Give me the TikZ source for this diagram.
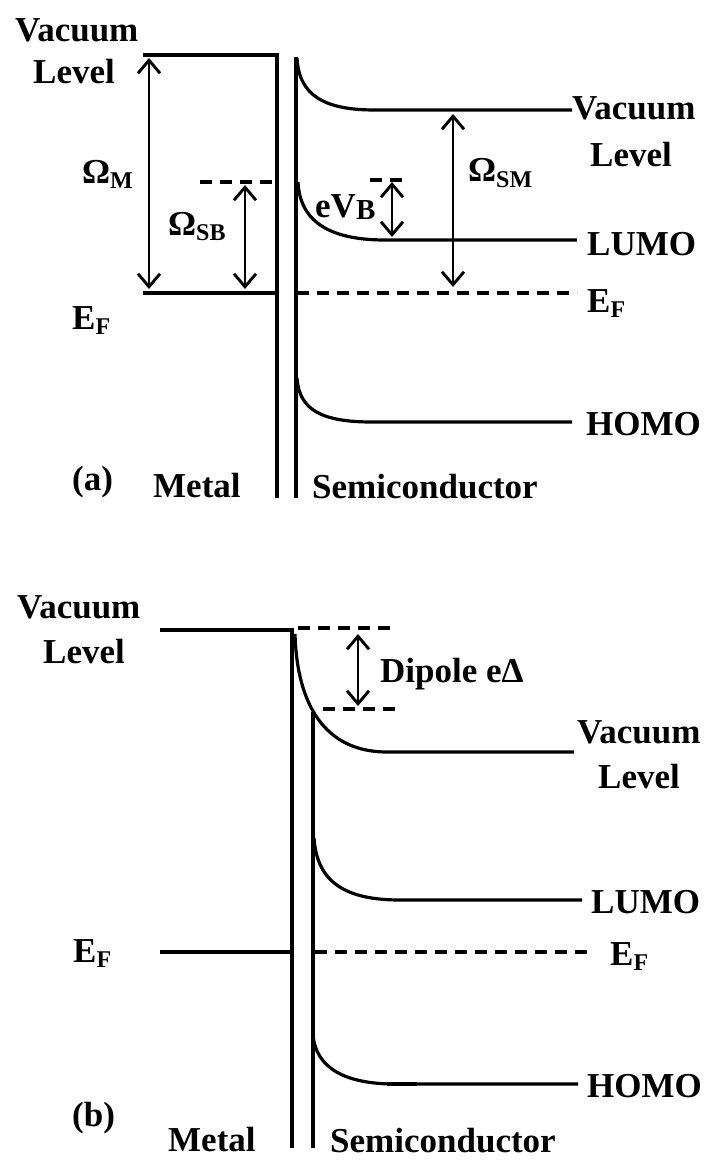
\documentclass[tikz,border=0pt]{standalone}
\usepackage{fontspec}
\setmainfont{Liberation Serif}
\usetikzlibrary{arrows.meta}
\newcommand{\lsub}[1]{\raisebox{-0.35ex}{\fontsize{24}{24}\selectfont #1}}

\begin{document}
\begin{tikzpicture}[x=1pt,y=-1pt,>={Straight Barb[length=13pt,width=22pt]},
  band/.style={line width=3.2pt},
  fermi/.style={line width=3.2pt,dash pattern=on 12pt off 8pt},
  gap/.style={<->,line width=2.9pt},
  lbl/.style={font=\fontsize{35}{40}\selectfont\bfseries,inner sep=0pt,anchor=base west}]
  \useasboundingbox (0,0) rectangle (704,1161);
  \clip (0,0) rectangle (704,1161);

  \coordinate (mvA) at (149,58); \coordinate (mfA) at (149,289);
  \coordinate (sbtA) at (245,185); \coordinate (sbbA) at (245,289);
  \coordinate (vbtA) at (392,182); \coordinate (vbbA) at (392,237);
  \coordinate (smtA) at (453,114); \coordinate (smbA) at (453,287);
  \draw[band] (143,55) -- (277,55) -- (277,498);
  \draw[band] (296,57) -- (296,498);
  \draw[band] (143,293) -- (277,293);
  \draw[fermi] (297,293) -- (577,293);
  \draw[fermi] (200,182) -- (273,182);
  \draw[fermi] (370,180) -- (408,180);
  \draw[band] (297,58) .. controls (299,96) and (325,110) .. (375,110) -- (572,110);
  \draw[band] (298,182) .. controls (300,225) and (335,240) .. (385,240) -- (577,240);
  \draw[band] (297,378) .. controls (299,410) and (322,422) .. (372,422) -- (572,422);
  \draw[gap] (mvA) -- (mfA);
  \draw[gap] (sbtA) -- (sbbA);
  \draw[gap] (vbtA) -- (vbbA);
  \draw[gap] (smtA) -- (smbA);
  \node[lbl] (vacA) at (15,42) {Vacuum};
  \node[lbl] (lvlA) at (33,84) {Level};
  \node[lbl] (omA) at (82,183) {Ω\lsub{M}};
  \node[lbl] (osbA) at (168,235) {Ω\lsub{SB}};
  \node[lbl] (efmA) at (72,329) {E\lsub{F}};
  \node[lbl] (ebA) at (315,217) {eV\raisebox{-0.15ex}{\fontsize{29}{29}\selectfont B}};
  \node[lbl] (osmA) at (468,182) {Ω\lsub{SM}};
  \node[lbl] (vacsA) at (572,120) {Vacuum};
  \node[lbl] (lvlsA) at (590,167) {Level};
  \node[lbl] (lumoA) at (587,255) {LUMO};
  \node[lbl] (efsA) at (587,312) {E\lsub{F}};
  \node[lbl] (homoA) at (586,435) {HOMO};
  \node[lbl] (tagA) at (72,490) {(a)};
  \node[lbl] (metA) at (153,497) {Metal};
  \node[lbl] (semA) at (312,498) {Semiconductor};

  \coordinate (dtB) at (358,634); \coordinate (dbB) at (358,706);
  \draw[band] (160,630) -- (292,630) -- (292,1148);
  \draw[band] (313,712) -- (313,1148);
  \draw[fermi] (298,628) -- (395,628);
  \draw[fermi] (323,709) -- (395,709);
  \draw[band] (295,634) .. controls (297,705) and (325,752) .. (387,752) -- (574,752);
  \draw[band] (314,838) .. controls (317,882) and (345,900) .. (400,900) -- (582,900);
  \draw[band] (160,952) -- (292,952);
  \draw[fermi] (315,952) -- (590,952);
  \draw[band] (313,1035) .. controls (316,1068) and (345,1084) .. (395,1084) -- (578,1084);
  \draw[line width=4.8pt] (387,1084) -- (417,1084);
  \draw[gap] (dtB) -- (dbB);
  \node[lbl] (vacB) at (17,618) {Vacuum};
  \node[lbl] (lvlB) at (43,663) {Level};
  \node[lbl] (dipB) at (380,682) {Dipole eΔ};
  \node[lbl] (vacsB) at (577,743) {Vacuum};
  \node[lbl] (lvlsB) at (598,788) {Level};
  \node[lbl] (lumoB) at (591,913) {LUMO};
  \node[lbl] (efmB) at (73,962) {E\lsub{F}};
  \node[lbl] (efsB) at (610,965) {E\lsub{F}};
  \node[lbl] (homoB) at (587,1097) {HOMO};
  \node[lbl] (tagB) at (72,1126) {(b)};
  \node[lbl] (metB) at (168,1151) {Metal};
  \node[lbl] (semB) at (330,1152) {Semiconductor};
\end{tikzpicture}
\end{document}
